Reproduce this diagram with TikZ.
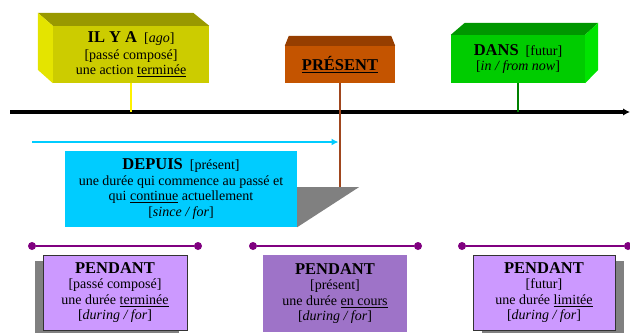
\documentclass[tikz,border=0pt]{standalone}
\usepackage{fontspec}
\setmainfont{Liberation Serif}
\usetikzlibrary{arrows.meta,calc,positioning}

\definecolor{ilyaFront}{RGB}{204,204,0}
\definecolor{ilyaTop}{RGB}{153,153,0}
\definecolor{ilyaSide}{RGB}{228,228,0}
\definecolor{presFront}{RGB}{196,84,0}
\definecolor{presTop}{RGB}{150,62,0}
\definecolor{presStem}{RGB}{160,70,30}
\definecolor{dansFront}{RGB}{0,204,0}
\definecolor{dansTop}{RGB}{0,150,0}
\definecolor{dansSide}{RGB}{0,228,0}
\definecolor{dansStem}{RGB}{0,128,0}
\definecolor{depuisCyan}{RGB}{0,204,255}
\definecolor{pendLight}{RGB}{204,153,255}
\definecolor{pendMid}{RGB}{158,115,200}
\definecolor{pendLine}{RGB}{128,0,128}
\definecolor{ombre}{RGB}{128,128,128}

\newcommand{\crochet}[1]{[#1]}
\newcommand{\titre}[1]{{\fontsize{16.5}{17}\selectfont\bfseries #1}}

\begin{document}
\begin{tikzpicture}[
  x=1pt, y=-1pt,
  > = Latex,
  boite/.style = {inner sep=0pt, align=center, font=\fontsize{14}{15.5}\selectfont},
  dot/.style = {fill=pendLine, circle, inner sep=0pt, minimum size=8pt},
  pendbox/.style = {boite, minimum width=144pt, minimum height=75pt, draw=black!80, line width=0.6pt, fill=pendLight},
  stem/.style = {line width=2.5pt}
  ]
	\useasboundingbox (0,0) rectangle (630,333);

	% la ligne du temps
	\coordinate (@t0) at (10,112);
	\coordinate (@t1) at (630,112);
	\draw[line width=3.5pt, -{Latex[length=7pt,width=7.5pt]}] (@t0) -- (@t1);

	% IL Y A
	\node[boite, fill=ilyaFront, minimum width=156pt, minimum height=57pt] (ilya) at (131,54.5)
		{\titre{IL Y A}\ \ \crochet{\textit{ago}}\\[1pt] \crochet{passé composé}\\ une action \underline{terminée}};
	\fill[ilyaTop] (ilya.north west) -- ++(-15,-13) -- ($(ilya.north east)+(-16,-13)$) -- (ilya.north east) -- cycle;
	\fill[ilyaSide] (ilya.north west) -- ++(-15,-13) -- ++(0,57) -- (ilya.south west) -- cycle;
	\draw[stem, draw=yellow] (ilya.south) -- (ilya.south |- @t0);

	% PRESENT
	\coordinate (@foot) at (340,187);
	\node[boite, fill=presFront, minimum width=110pt, minimum height=37pt] (pres) at (340,64.5)
		{\titre{\underline{PRÉSENT}}};
	\fill[presTop] (pres.north west) -- ++(4,-10) -- ($(pres.north east)+(-4,-10)$) -- (pres.north east) -- cycle;

	% DANS
	\node[boite, fill=dansFront, minimum width=134pt, minimum height=48pt] (dans) at (518,59)
		{\titre{DANS}\ \ \crochet{futur}\\ \crochet{\textit{in / from now}}};
	\fill[dansTop] (dans.north west) -- ++(14,-12) -- ($(dans.north east)+(13,-12)$) -- (dans.north east) -- cycle;
	\fill[dansSide] (dans.north east) -- ++(13,-12) -- ++(0,47) -- (dans.south east) -- cycle;
	\draw[stem, draw=dansStem] (dans.south) -- (dans.south |- @t0);

	% DEPUIS
	\node[boite, fill=depuisCyan, minimum width=232pt, minimum height=76pt] (depuis) at (181,189)
		{\titre{DEPUIS}\ \ \crochet{présent}\\ une durée qui commence au passé et\\ qui \underline{continue} actuellement\\ \crochet{\textit{since / for}}};
	\fill[ombre] (depuis.east |- @foot) -- ++(62,0) -- (depuis.south east) -- cycle;
	\draw[stem, draw=presStem] (pres.south) -- (@foot);
	\coordinate (@d0) at (32,142);
	\draw[line width=2pt, draw=depuisCyan, -{Latex[length=7pt,width=7pt]}] (@d0) -- (@d0 -| pres.west) -- ($(@d0 -| pres.south)+(-1.5,0)$);

	% PENDANT : les trois durees
	\foreach \a/\b/\n in {32/198/1, 253/418/2, 462/628/3}{
		\node[dot] (p\n a) at (\a,246) {};
		\node[dot] (p\n b) at (\b,246) {};
		\draw[line width=2.5pt, draw=pendLine] (p\n a) -- (p\n b);
	}

	\fill[ombre] (35,261) rectangle (179,333);
	\node[pendbox] (pend1) at (115,292.5)
		{\titre{PENDANT}\\ \crochet{passé composé}\\ une durée \underline{terminée}\\ \crochet{\textit{during / for}}};

	\node[pendbox, draw=none, fill=pendMid, minimum height=77pt] (pend2) at (335,293.5)
		{\titre{PENDANT}\\ \crochet{présent}\\ une durée \underline{en cours}\\ \crochet{\textit{during / for}}};

	\fill[ombre] (482,261) rectangle (624,333);
	\node[pendbox, minimum width=142pt] (pend3) at (544,292.5)
		{\titre{PENDANT}\\ \crochet{futur}\\ une durée \underline{limitée}\\ \crochet{\textit{during / for}}};

\end{tikzpicture}
\end{document}
